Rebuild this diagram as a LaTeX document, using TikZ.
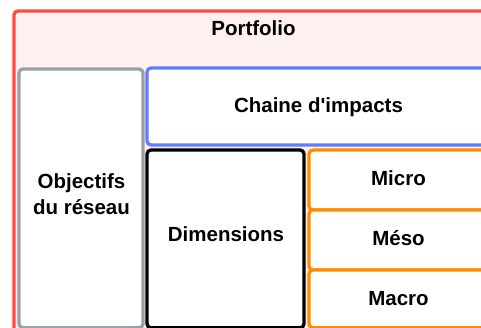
\documentclass[tikz,border=0pt]{standalone}
\usepackage{fontspec}
\setmainfont{Liberation Sans}
\definecolor{cRed}{RGB}{255,75,65}
\definecolor{cPink}{RGB}{255,240,240}
\definecolor{cGray}{RGB}{154,160,166}
\definecolor{cBlue}{RGB}{95,125,255}
\definecolor{cOrange}{RGB}{255,140,0}
\begin{document}
\begin{tikzpicture}[x=1pt,y=1pt,
  boxshape/.style={line width=3.3pt, rounded corners=4pt},
  lbl/.style={font=\fontsize{20.5}{26}\selectfont\bfseries, inner sep=0pt, anchor=base, align=center}]
\useasboundingbox (0,0) rectangle (481,327);
\clip (0,0) rectangle (481,327);
% boxes
\draw[boxshape, draw=cRed, fill=cPink] (14,-6) rectangle (493,316);
\draw[boxshape, draw=cGray, fill=white] (19,-0.8) rectangle (143,258);
\draw[boxshape, draw=cBlue, fill=white] (147,182) rectangle (489,259);
\draw[boxshape, draw=black, fill=white] (147,-0.8) rectangle (304,177);
\draw[boxshape, draw=cOrange, fill=white] (309,117) rectangle (489,177);
\draw[boxshape, draw=cOrange, fill=white] (309,57) rectangle (489,117);
\draw[boxshape, draw=cOrange, fill=white] (309,-0.8) rectangle (489,57);
% labels
\node[lbl] (portfolio) at (253.5,291.3) {Portfolio};
\node[lbl] (chaine) at (318.5,214) {Chaine d\textquotesingle impacts};
\node[lbl] (objectifs) at (81.5,112.3) {Objectifs\\du réseau};
\node[lbl] (dimensions) at (226,86) {Dimensions};
\node[lbl] (micro) at (398.5,142) {Micro};
\node[lbl] (meso) at (398.5,82) {Méso};
\node[lbl] (macro) at (398.5,22) {Macro};
\end{tikzpicture}
\end{document}
